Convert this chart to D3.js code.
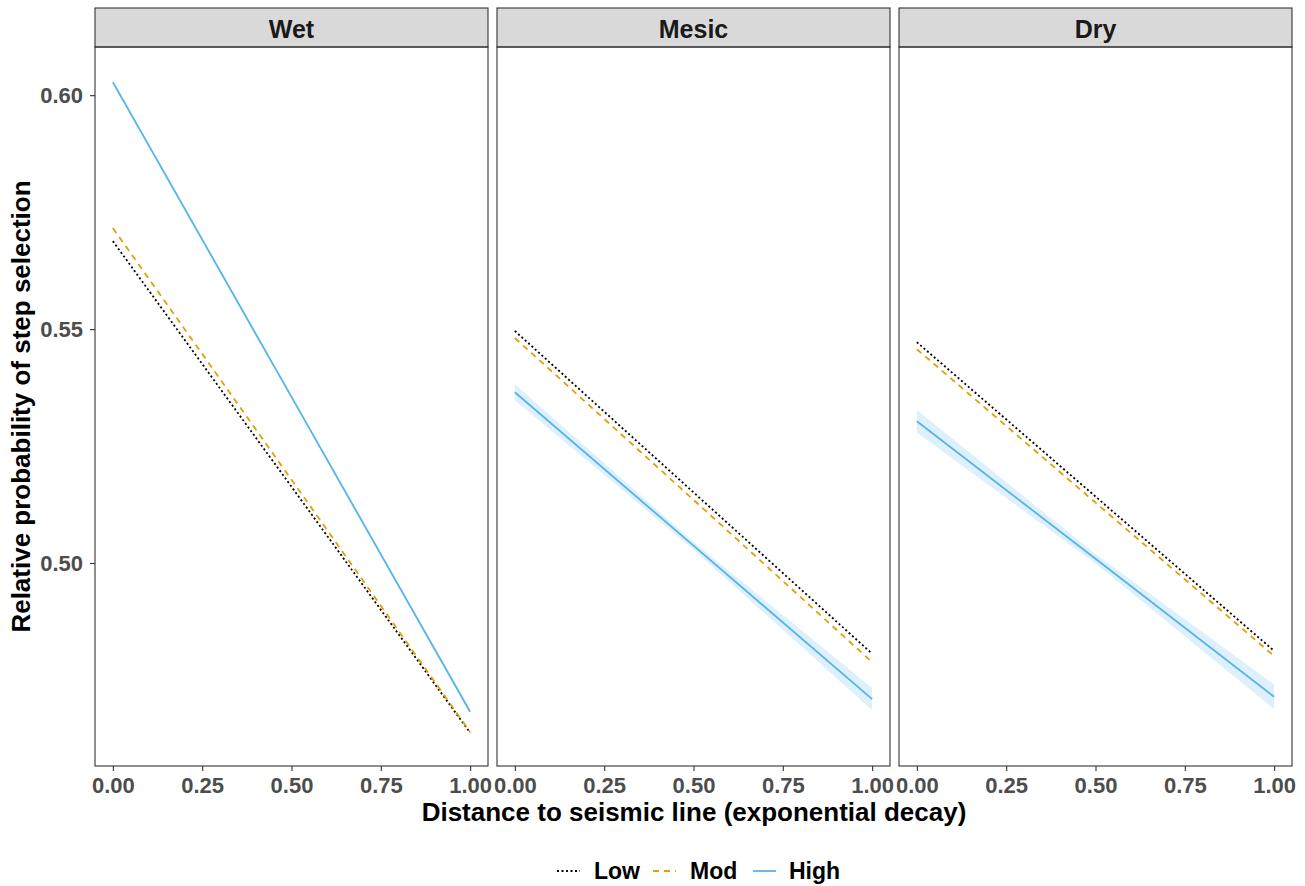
<!DOCTYPE html>
<html>
<head>
<meta charset="utf-8">
<script src="https://cdn.jsdelivr.net/npm/d3@7"></script>
<style>
  body { margin: 0; background: #fff; }
  text { font-family: "Liberation Sans", Arial, sans-serif; font-weight: bold; }
</style>
</head>
<body>
<div id="chart"></div>
<script>
// Facets and groups
const habitats = ["Wet", "Mesic", "Dry"];
const levels = ["Low", "Mod", "High"];
const xValues = [0, 0.5, 1];
const xTicks = [0, 0.25, 0.5, 0.75, 1];
const yTicks = [0.50, 0.55, 0.60];

// Fitted values at x = 0, 0.5, 1
const wetLow = [0.5688, 0.5163, 0.4637];
const wetMod = [0.5716, 0.5178, 0.4639];
const wetHigh = [0.6028, 0.5355, 0.4682];
const mesicLow = [0.5496, 0.5151, 0.4806];
const mesicMod = [0.5481, 0.5135, 0.4788];
const mesicHigh = [0.5365, 0.5037, 0.4709];
const dryLow = [0.5472, 0.5142, 0.4812];
const dryMod = [0.5457, 0.5129, 0.4801];
const dryHigh = [0.5303, 0.5009, 0.4714];

// Half-width of the confidence band at x = 0, 0.5, 1
const wetBand = [0.0004, 0.0002, 0.0004];
const mesicBand = [0.0017, 0.0008, 0.0024];
const dryBand = [0.0024, 0.0010, 0.0026];

const series = {
  Wet: { Low: wetLow, Mod: wetMod, High: wetHigh, band: wetBand },
  Mesic: { Low: mesicLow, Mod: mesicMod, High: mesicHigh, band: mesicBand },
  Dry: { Low: dryLow, Mod: dryMod, High: dryHigh, band: dryBand }
};

const colors = { Low: "#000000", Mod: "#E69F00", High: "#56B4E9" };
const dashes = { Low: "2,2.5", Mod: "6,5", High: null };

const width = 1305, height = 886;
const svg = d3.select("#chart").append("svg")
  .attr("width", width).attr("height", height);

const panelTop = 47, panelBottom = 766, stripTop = 8;
const panelLefts = [95, 497, 899];
const panelW = 393;

const y = d3.scaleLinear().domain([0.4566, 0.6103]).range([panelBottom, panelTop]);

habitats.forEach((h, i) => {
  const x0 = panelLefts[i];
  const x = d3.scaleLinear().domain([-0.05, 1.05]).range([x0, x0 + panelW]);
  const g = svg.append("g");

  // strip
  g.append("rect")
    .attr("x", x0).attr("y", stripTop)
    .attr("width", panelW).attr("height", panelTop - stripTop)
    .attr("fill", "#D9D9D9").attr("stroke", "#333333").attr("stroke-width", 1.1);
  g.append("text")
    .attr("x", x0 + panelW / 2).attr("y", 38)
    .attr("text-anchor", "middle").attr("font-size", 25).attr("fill", "#1A1A1A")
    .text(h);

  // confidence band for High
  const d = series[h];
  const bandData = xValues.map((v, k) => ({ x: v, lo: d.High[k] - d.band[k], hi: d.High[k] + d.band[k] }));
  g.append("path")
    .datum(bandData)
    .attr("fill", "#56B4E9").attr("fill-opacity", 0.2)
    .attr("d", d3.area().x(p => x(p.x)).y0(p => y(p.lo)).y1(p => y(p.hi)));

  // lines
  levels.forEach(l => {
    const pts = xValues.map((v, k) => ({ x: v, y: d[l][k] }));
    g.append("path")
      .datum(pts)
      .attr("fill", "none")
      .attr("stroke", colors[l])
      .attr("stroke-width", 1.8)
      .attr("stroke-dasharray", dashes[l])
      .attr("d", d3.line().x(p => x(p.x)).y(p => y(p.y)));
  });

  // panel border
  g.append("rect")
    .attr("x", x0).attr("y", panelTop)
    .attr("width", panelW).attr("height", panelBottom - panelTop)
    .attr("fill", "none").attr("stroke", "#333333").attr("stroke-width", 1.1);

  // x axis
  const xAxis = g.append("g")
    .attr("transform", `translate(0,${panelBottom})`)
    .call(d3.axisBottom(x).tickValues(xTicks).tickFormat(d3.format(".2f")).tickSize(5).tickPadding(6));
  xAxis.select(".domain").remove();
  xAxis.selectAll("line").attr("stroke", "#333333").attr("stroke-width", 1.1);
  xAxis.selectAll("text").attr("font-size", 22).attr("fill", "#4D4D4D")
    .style("font-family", "Liberation Sans, Arial, sans-serif").style("font-weight", "bold");

  // y axis on first panel only
  if (i === 0) {
    const yAxis = g.append("g")
      .attr("transform", `translate(${x0},0)`)
      .call(d3.axisLeft(y).tickValues(yTicks).tickFormat(d3.format(".2f")).tickSize(5).tickPadding(7));
    yAxis.select(".domain").remove();
    yAxis.selectAll("line").attr("stroke", "#333333").attr("stroke-width", 1.1);
    yAxis.selectAll("text").attr("font-size", 22).attr("fill", "#4D4D4D")
      .style("font-family", "Liberation Sans, Arial, sans-serif").style("font-weight", "bold");
  }
});

// axis titles
svg.append("text")
  .attr("x", 694).attr("y", 821)
  .attr("text-anchor", "middle").attr("font-size", 26).attr("fill", "#000")
  .text("Distance to seismic line (exponential decay)");

svg.append("text")
  .attr("transform", `translate(30,${(panelTop + panelBottom) / 2}) rotate(-90)`)
  .attr("text-anchor", "middle").attr("font-size", 26).attr("fill", "#000")
  .text("Relative probability of step selection");

// legend
const legendItems = [
  { key: "Low", kx: 557, tx: 594 },
  { key: "Mod", kx: 653, tx: 690 },
  { key: "High", kx: 753, tx: 789 }
];
const legendY = 871;
const leg = svg.append("g");
legendItems.forEach(it => {
  leg.append("line")
    .attr("x1", it.kx).attr("x2", it.kx + 23)
    .attr("y1", legendY).attr("y2", legendY)
    .attr("stroke", colors[it.key]).attr("stroke-width", 1.8)
    .attr("stroke-dasharray", dashes[it.key]);
  leg.append("text")
    .attr("x", it.tx).attr("y", legendY + 8)
    .attr("font-size", 23).attr("fill", "#000")
    .text(it.key);
});
</script>
</body>
</html>
